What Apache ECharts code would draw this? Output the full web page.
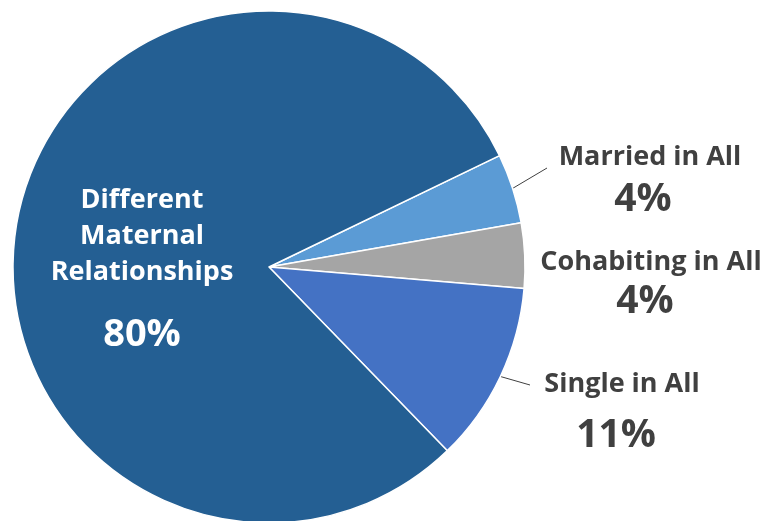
<!DOCTYPE html>
<html>
<head>
<meta charset="utf-8">
<script src="https://cdn.jsdelivr.net/npm/echarts@6/dist/echarts.min.js"></script>
<style>
  html, body { margin: 0; padding: 0; background: #ffffff; }
  #chart { width: 770px; height: 521px; }
</style>
</head>
<body>
<div id="chart"></div>
<script>
// Share of children by mother's relationship pattern
const categories = ['Married in All', 'Cohabiting in All', 'Single in All', 'Different Maternal Relationships'];
const values = [4.4, 4.1, 11.4, 80.1];
const colors = ['#5b9bd5', '#a5a5a5', '#4472c4', '#245f93'];

const FONT = '"Open Sans"';
const DARK = '#404040';

// Where each label block sits (center x, top y) and where its leader line ends
const labelPlacement = [
  { x: 650, y: 142, lineEnd: [547, 168], nameLH: 30, pctLH: 56, pctShift: 14 },
  { x: 651, y: 247, lineEnd: null,       nameLH: 30, pctLH: 50, pctShift: 12 },
  { x: 622, y: 369, lineEnd: [530, 385], nameLH: 30, pctLH: 74, pctShift: 12 },
  { x: 142, y: 182, lineEnd: null,       nameLH: 36, pctLH: 90, pctShift: 0 }
];

function pct(v) { return Math.round(v) + '%'; }

const data = categories.map((name, i) => {
  const p = labelPlacement[i];
  const inside = i === 3;
  const shownName = inside ? 'Different\nMaternal\nRelationships' : name;
  return {
    name: name,
    value: values[i],
    itemStyle: { color: colors[i] },
    label: {
      show: true,
      formatter: shownName.split('\n').map(s => '{a|' + s + '}').join('\n') + '\n{b|' + pct(values[i]) + '}',
      rich: {
        a: {
          fontFamily: FONT, fontWeight: 700,
          fontSize: 27,
          color: inside ? '#ffffff' : DARK,
          lineHeight: p.nameLH, align: 'center'
        },
        b: {
          fontFamily: FONT, fontWeight: 700,
          fontSize: inside ? 38 : 39,
          color: inside ? '#ffffff' : DARK,
          lineHeight: p.pctLH, align: 'center',
          padding: [0, p.pctShift, 0, 0]
        }
      }
    },
    labelLine: {
      show: !!p.lineEnd,
      lineStyle: { color: '#404040', width: 1 }
    }
  };
});

const chart = echarts.init(document.getElementById('chart'), null, { renderer: 'canvas' });
chart.setOption({
  animation: false,
  series: [{
    type: 'pie',
    center: [269, 267],
    radius: [0, 256],
    startAngle: 25.8,
    clockwise: true,
    avoidLabelOverlap: false,
    itemStyle: { borderColor: '#ffffff', borderWidth: 1.5 },
    label: { position: 'outside' },
    labelLine: { length: 10, length2: 10 },
    emphasis: { disabled: true },
    data: data,
    labelLayout: function (params) {
      const p = labelPlacement[params.dataIndex];
      const out = { x: p.x, y: p.y, align: 'center', verticalAlign: 'top' };
      if (p.lineEnd && params.labelLinePoints) {
        const start = params.labelLinePoints[0];
        out.labelLinePoints = [start, p.lineEnd, p.lineEnd];
      }
      return out;
    }
  }]
});
</script>
</body>
</html>
